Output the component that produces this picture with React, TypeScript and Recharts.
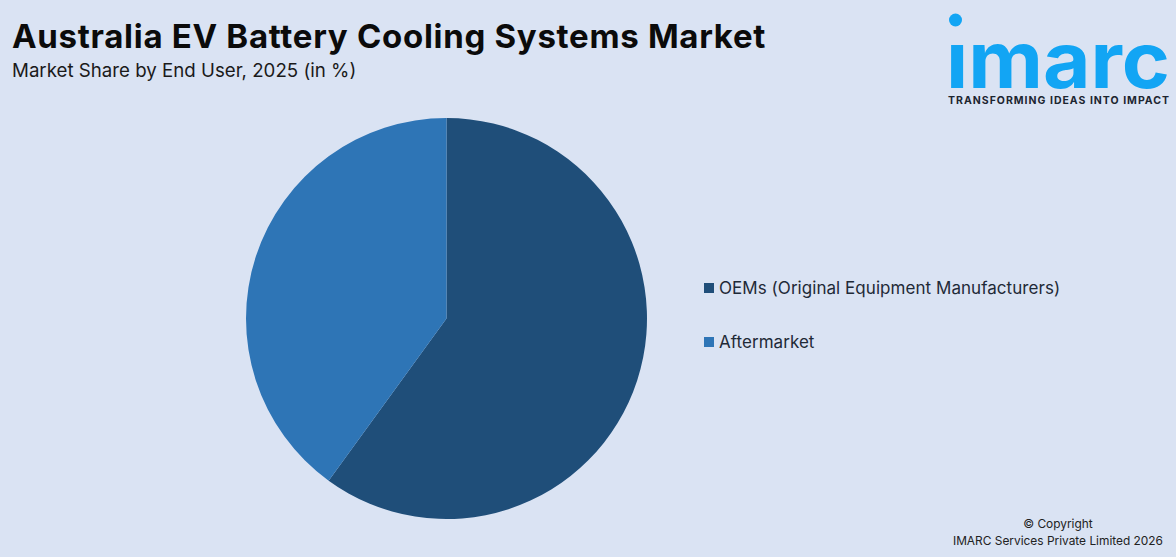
import { Legend, Pie, PieChart } from 'recharts'

const categories = ['OEMs (Original Equipment Manufacturers)', 'Aftermarket']
const shares = [60, 40]
const colors = ['#1F4E79', '#2E75B6']

const pieData = categories.map((name, i) => ({ name, value: shares[i], fill: colors[i] }))

const font = 'Inter, "Noto Sans", sans-serif'

function LegendList() {
  return (
    <div style={{ fontFamily: font, fontSize: 17, letterSpacing: 0.05, color: '#1f2a37' }}>
      {categories.map((name, i) => (
        <div key={name} style={{ display: 'flex', alignItems: 'center', height: 54, whiteSpace: 'nowrap' }}>
          <span style={{ width: 10, height: 10, background: colors[i], marginRight: 5 }} />
          {name}
        </div>
      ))}
    </div>
  )
}

export default function App() {
  return (
    <div style={{ position: 'absolute', left: 0, top: 0, width: 1176, height: 557, background: '#DAE3F3', overflow: 'hidden' }}>
      <PieChart width={1176} height={557} margin={{ top: 0, right: 0, bottom: 0, left: 0 }} style={{ position: 'absolute', left: 0, top: 0 }}>
        <Pie
          data={pieData}
          dataKey="value"
          nameKey="name"
          cx={446.5}
          cy={318.5}
          outerRadius={200.5}
          startAngle={90}
          endAngle={-270}
          stroke="none"
          isAnimationActive={false}
        />
        <Legend
          layout="vertical"
          content={<LegendList />}
          wrapperStyle={{ left: 704, top: 261, width: 400 }}
        />
      </PieChart>

      <div style={{ position: 'absolute', left: 12, top: 14, fontFamily: font, fontWeight: 700, fontSize: 33, letterSpacing: 0.7, lineHeight: '44px', color: '#0b0b0b', whiteSpace: 'nowrap' }}>
        Australia EV Battery Cooling Systems Market
      </div>
      <div style={{ position: 'absolute', left: 12, top: 58, fontFamily: font, fontSize: 18.7, lineHeight: '26px', color: '#1a1a1a', whiteSpace: 'nowrap' }}>
        Market Share by End User, 2025 (in %)
      </div>

      <svg width={240} height={115} style={{ position: 'absolute', left: 936, top: 0 }}>
        <circle cx={19.5} cy={20} r={6.5} fill="#12A5F4" />
        <text x={10} y={88} textLength={224} lengthAdjust="spacingAndGlyphs" fontFamily={font} fontWeight={700} fontSize={78} fill="#12A5F4">
          ımarc
        </text>
        <text x={12} y={104} textLength={221} lengthAdjust="spacing" fontFamily={font} fontWeight={700} fontSize={10.5} fill="#1c2530">
          TRANSFORMING IDEAS INTO IMPACT
        </text>
      </svg>

      <div style={{ position: 'absolute', right: 13, top: 515, fontFamily: font, fontSize: 11.9, lineHeight: '17px', color: '#222', textAlign: 'center', whiteSpace: 'nowrap' }}>
        © Copyright
        <br />
        IMARC Services Private Limited 2026
      </div>
    </div>
  )
}
